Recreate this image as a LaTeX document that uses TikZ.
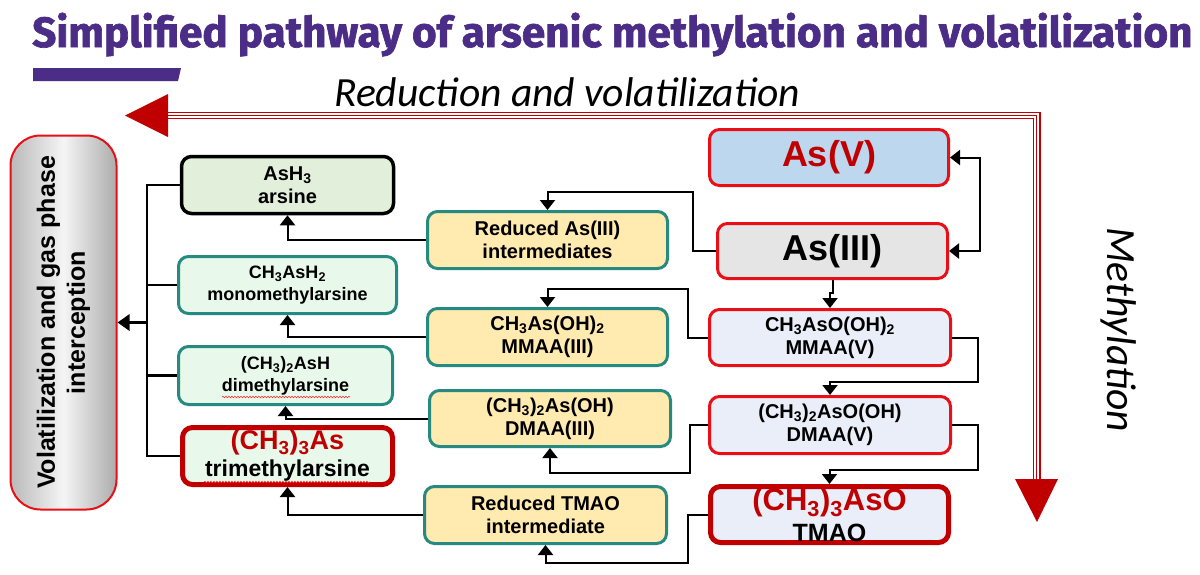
\documentclass[tikz,border=0pt]{standalone}
\usepackage{fontspec}
\usepackage{graphicx}
\setmainfont{Liberation Sans}
\newfontfamily\titlefont{Fira Sans}[BoldFeatures={FakeBold=1.6}]
\newfontfamily\calib{Carlito}
\usetikzlibrary{arrows.meta,calc,decorations.pathmorphing}
\newcommand\fsz[2]{\fontsize{#1}{#2}\selectfont}
\definecolor{ttlpurple}{RGB}{75,45,135}
\definecolor{dred}{RGB}{192,0,0}
\definecolor{bred}{RGB}{232,16,22}
\definecolor{tealb}{RGB}{38,138,128}
\definecolor{yelfill}{RGB}{255,234,176}
\definecolor{mintfill}{RGB}{232,249,236}
\definecolor{greenfill}{RGB}{226,239,218}
\definecolor{bluefill}{RGB}{189,215,238}
\definecolor{grayfill}{RGB}{229,229,229}
\definecolor{palefill}{RGB}{233,238,248}
\tikzset{
  conn/.style={line width=2pt, -{Triangle[width=15pt,length=10pt]}},
  plainline/.style={line width=2.2pt},
  bx/.style={rounded corners=10pt, align=center, inner sep=0pt, line width=3pt, font=\bfseries\fsz{20}{23}},
  yelbox/.style={bx, draw=tealb, fill=yelfill},
  mintbox/.style={bx, draw=tealb, fill=mintfill, font=\bfseries\fsz{18}{22}},
  redbox/.style={bx, draw=bred, fill=palefill},
  thickred/.style={bx, draw=dred, line width=5pt},
  bigred/.style={draw=dred, line width=1.3pt},
  squig/.style={red!80, line width=0.6pt, decorate, decoration={snake, amplitude=0.8pt, segment length=3pt}},
}
\begin{document}
\begin{tikzpicture}[x=1pt,y=-1pt]
\useasboundingbox (0,0) rectangle (1200,574);
\fill[white] (0,0) rectangle (1200,574);

% title and bar
\node[anchor=base west, inner sep=0pt, text=ttlpurple] (title) at (32,47)
  {\resizebox{1160pt}{!}{\titlefont\bfseries Simplified pathway of arsenic methylation and volatilization}};
\fill[ttlpurple] (33,68) -- (181,68) -- (178,81) -- (33,81) -- cycle;

% italic labels
\node[anchor=base west, inner sep=0pt] (redlab) at (334,106)
  {\resizebox{466pt}{!}{\calib\itshape\fsz{42}{42}Reduction and volatilization}};
\node[anchor=base west, inner sep=0pt, rotate=-90] (methlab) at (1107,227)
  {\resizebox{205pt}{!}{\calib\itshape\fsz{42}{42}Methylation}};

% big red triple arrows
\coordinate (hstart) at (168,115.5);
\coordinate (corner) at (1036.7,115.5);
\coordinate (vend) at (1036.7,480);
\draw[bigred] (168,112.3) -- (1039.9,112.3) -- (1039.9,480);
\draw[bigred] (hstart) -- (corner) -- (vend);
\draw[bigred] (168,118.7) -- (1033.5,118.7) -- (1033.5,480);
\fill[dred] (125,115.5) -- (168,94) -- (168,137) -- cycle;
\fill[dred] (1015,479) -- (1058,479) -- (1037,522) -- cycle;

% left box
\node[draw=bred, line width=2pt, rounded corners=30pt, minimum width=106pt, minimum height=374pt,
      left color=gray!55, right color=gray!65, middle color=gray!8, inner sep=0pt,
      align=center] (vol) at (63.5,322.5) {};
\node[rotate=90, align=center, font=\bfseries\fsz{25}{30}] (voltext) at (vol.center)
  {Volatilization and gas phase\\interception};

% column 1
\node[bx, draw=black, line width=3.5pt, fill=greenfill, minimum width=212pt, minimum height=57pt] (ash3) at (287.5,185)
  {AsH\textsubscript{3}\\arsine};
\node[mintbox, minimum width=218pt, minimum height=57pt] (mmah) at (287.5,285)
  {CH\textsubscript{3}AsH\textsubscript{2}\\monomethylarsine};
\node[mintbox, minimum width=214pt, minimum height=58pt] (dmah) at (285.5,375.5)
  {(CH\textsubscript{3})\textsubscript{2}AsH\\dimethylarsine};
\node[thickred, fill=mintfill, minimum width=210pt, minimum height=57pt, font=\bfseries\fsz{23}{27}] (tmah) at (287.5,456)
  {{\fsz{27}{27}\color{dred}(CH\textsubscript{3})\textsubscript{3}As}\\trimethylarsine};
\draw[squig] (222,397) -- (350,397);
\draw[squig] (204,482) -- (370,482);

% column 2
\node[yelbox, minimum width=240pt, minimum height=57pt] (redAs) at (547.5,240)
  {Reduced As(III)\\intermediates};
\node[yelbox, minimum width=240pt, minimum height=57pt] (mmaa3) at (547.5,337)
  {CH\textsubscript{3}As(OH)\textsubscript{2}\\MMAA(III)};
\node[yelbox, minimum width=241pt, minimum height=56pt] (dmaa3) at (550,418.5)
  {(CH\textsubscript{3})\textsubscript{2}As(OH)\\DMAA(III)};
\node[yelbox, minimum width=242pt, minimum height=57pt] (redT) at (545.5,515)
  {Reduced TMAO\\intermediate};

% column 3
\node[redbox, fill=bluefill, minimum width=239pt, minimum height=56pt, font=\bfseries\fsz{36}{36}, text=dred] (asv) at (829,157.5)
  {As(V)};
\node[redbox, fill=grayfill, minimum width=230pt, minimum height=55pt, font=\bfseries\fsz{36}{36}] (as3) at (832.5,251)
  {As(III)};
\node[redbox, minimum width=241pt, minimum height=56pt] (mmaa5) at (830,337.5)
  {CH\textsubscript{3}AsO(OH)\textsubscript{2}\\MMAA(V)};
\node[redbox, minimum width=241pt, minimum height=57pt] (dmaa5) at (830,425)
  {(CH\textsubscript{3})\textsubscript{2}AsO(OH)\\DMAA(V)};
\node[thickred, fill=palefill, minimum width=238pt, minimum height=56pt, font=\bfseries\fsz{25}{31}] (tmao) at (829.5,514.5)
  {{\fsz{31}{31}\color{dred}(CH\textsubscript{3})\textsubscript{3}AsO}\\TMAO};

% bracket to left box
\coordinate (bx) at (147,0);
\draw[plainline] (ash3.west) -- (ash3.west -| bx) -- (tmah.west -| bx) -- (tmah.west);
\draw[plainline] (mmah.west) -- (mmah.west -| bx);
\draw[plainline] (dmah.west) -- (dmah.west -| bx);
\draw[line width=3pt, -{Triangle[width=16pt,length=12pt]}] (vol.east -| bx) -- (vol.east);

% column 2 -> column 1
\draw[conn] (redAs.west) -| (ash3.south);
\draw[conn] (mmaa3.west) -| (mmah.south);
\draw[conn] (dmaa3.west) -| (dmah.south);
\draw[conn] (redT.west) -| (tmah.south);

% column 3 -> column 2
\draw[conn] (as3.west) -| ++(-23,-59) -| (redAs.north);
\draw[conn] (mmaa5.west) -| ++(-20,-48.5) -| (mmaa3.north);
\draw[conn] (dmaa5.west) -| ++(-18,48) -| (dmaa3.south);
\draw[conn] (tmao.west) -| ++(-20,48.5) -| (redT.south);

% methylation chain
\draw[line width=2pt, {Triangle[width=15pt,length=10pt]}-{Triangle[width=15pt,length=10pt]}]
  (asv.east) -- ++(30,0) |- (as3.east);
\draw[conn] (as3.south) -- ++(0,13) -| (mmaa5.north);
\draw[conn] (mmaa5.east) -| ($(dmaa5.north)+(148,-13)$) -| (dmaa5.north);
\draw[conn] (dmaa5.east) -| ($(tmao.north)+(148.5,-14)$) -| (tmao.north);
\end{tikzpicture}
\end{document}
